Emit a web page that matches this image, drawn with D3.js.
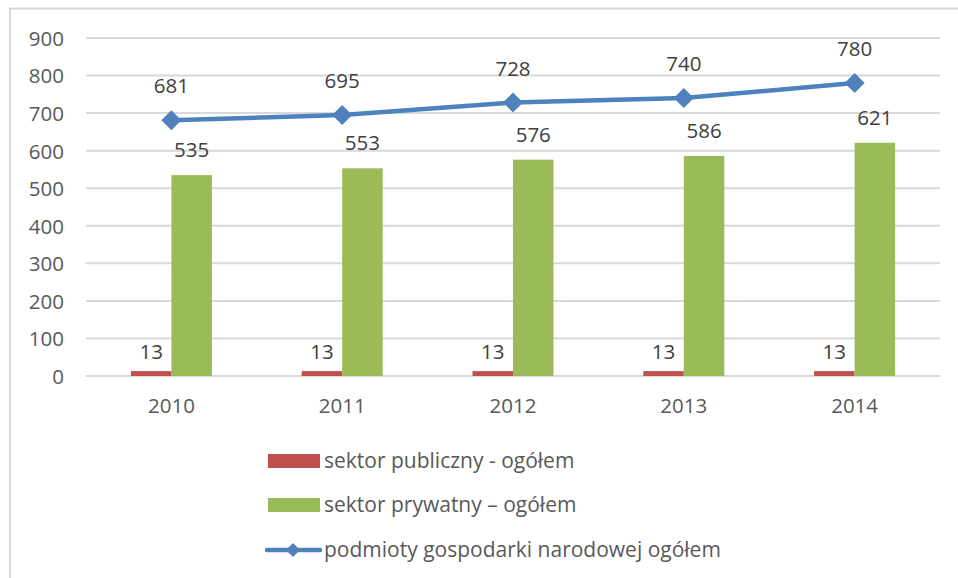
<!DOCTYPE html>
<html><head><meta charset="utf-8">
<script src="https://cdn.jsdelivr.net/npm/d3@7"></script>
<style>body{margin:0;background:#fff;} svg{display:block;font-family:"Open Sans","Noto Sans",sans-serif;}</style>
</head><body>
<svg id="c" width="958" height="578"></svg>
<script>
const years = ["2010","2011","2012","2013","2014"];
const publicSector = [13,13,13,13,13];
const privateSector = [535,553,576,586,621];
const totalEntities = [681,695,728,740,780];
const yTicks = [0,100,200,300,400,500,600,700,800,900];
const seriesNames = ["sektor publiczny - ogółem","sektor prywatny – ogółem","podmioty gospodarki narodowej ogółem"];
const colors = {pub:"#C0504D", priv:"#9BBB59", line:"#4F81BD"};
const FONT = "'Open Sans','Noto Sans',sans-serif";
const FS = 20.5;

const svg = d3.select("#c");
// chart frame
svg.append("rect").attr("x",10).attr("y",8.5).attr("width",960).attr("height",600)
  .attr("fill","#fff").attr("stroke","#D9D9D9").attr("stroke-width",2);

const x = d3.scaleBand().domain(years).range([86,940]);
const y = d3.scaleLinear().domain([0,900]).range([376,38]);

// gridlines
svg.append("g").selectAll("line").data(yTicks).join("line")
  .attr("x1",86).attr("x2",940).attr("y1",d=>y(d)).attr("y2",d=>y(d))
  .attr("stroke","#D9D9D9").attr("stroke-width",2);

// y axis
const yAxis = svg.append("g").attr("transform","translate(64,0)")
  .call(d3.axisLeft(y).tickValues(yTicks).tickSize(0).tickPadding(0));
yAxis.select(".domain").remove();
yAxis.selectAll("text").attr("font-size",FS).attr("fill","#595959").attr("font-family",FONT).attr("dy","0.36em");

// x axis
const xAxis = svg.append("g").attr("transform","translate(0,376)")
  .call(d3.axisBottom(x).tickSize(0).tickPadding(22));
xAxis.select(".domain").remove();
xAxis.selectAll("text").attr("font-size",FS).attr("fill","#595959").attr("font-family",FONT);

const bw = 40.5;
const cx = d => x(d) + x.bandwidth()/2;

// bars
svg.append("g").selectAll("rect").data(years).join("rect")
  .attr("x",d=>cx(d)-bw).attr("width",bw)
  .attr("y",(d,i)=>y(publicSector[i])).attr("height",(d,i)=>y(0)-y(publicSector[i]))
  .attr("fill",colors.pub);
svg.append("g").selectAll("rect").data(years).join("rect")
  .attr("x",d=>cx(d)).attr("width",bw)
  .attr("y",(d,i)=>y(privateSector[i])).attr("height",(d,i)=>y(0)-y(privateSector[i]))
  .attr("fill",colors.priv);

// bar labels
svg.append("g").selectAll("text").data(years).join("text")
  .attr("x",d=>cx(d)-bw/2).attr("y",(d,i)=>y(publicSector[i])-12)
  .attr("text-anchor","middle").attr("font-size",FS).attr("fill","#404040")
  .text((d,i)=>publicSector[i]);
svg.append("g").selectAll("text").data(years).join("text")
  .attr("x",d=>cx(d)+bw/2).attr("y",(d,i)=>y(privateSector[i])-18)
  .attr("text-anchor","middle").attr("font-size",FS).attr("fill","#404040")
  .text((d,i)=>privateSector[i]);

// line
const line = d3.line().x((d,i)=>cx(years[i])).y(d=>y(d));
svg.append("path").datum(totalEntities).attr("d",line)
  .attr("fill","none").attr("stroke",colors.line).attr("stroke-width",4.5).attr("stroke-linejoin","round");
const diamond = s => `M0,${-s}L${s},0L0,${s}L${-s},0Z`;
svg.append("g").selectAll("path").data(totalEntities).join("path")
  .attr("transform",(d,i)=>`translate(${cx(years[i])},${y(d)})`)
  .attr("d",diamond(10)).attr("fill",colors.line);
svg.append("g").selectAll("text").data(totalEntities).join("text")
  .attr("x",(d,i)=>cx(years[i])).attr("y",d=>y(d)-27)
  .attr("text-anchor","middle").attr("font-size",FS).attr("fill","#404040")
  .text(d=>d);

// legend
const lg = svg.append("g");
const ly = [461,505,550];
lg.append("rect").attr("x",268).attr("y",ly[0]-7).attr("width",52).attr("height",14).attr("fill",colors.pub);
lg.append("rect").attr("x",268).attr("y",ly[1]-7).attr("width",52).attr("height",14).attr("fill",colors.priv);
lg.append("line").attr("x1",267).attr("x2",320).attr("y1",ly[2]).attr("y2",ly[2])
  .attr("stroke",colors.line).attr("stroke-width",4.5).attr("stroke-linecap","round");
lg.append("path").attr("transform",`translate(293,${ly[2]})`).attr("d",diamond(7)).attr("fill",colors.line);
lg.selectAll("text").data(seriesNames).join("text")
  .attr("x",324).attr("y",(d,i)=>ly[i]).attr("dy","0.35em")
  .attr("font-size",21).attr("fill","#595959").text(d=>d);
</script>
</body></html>
